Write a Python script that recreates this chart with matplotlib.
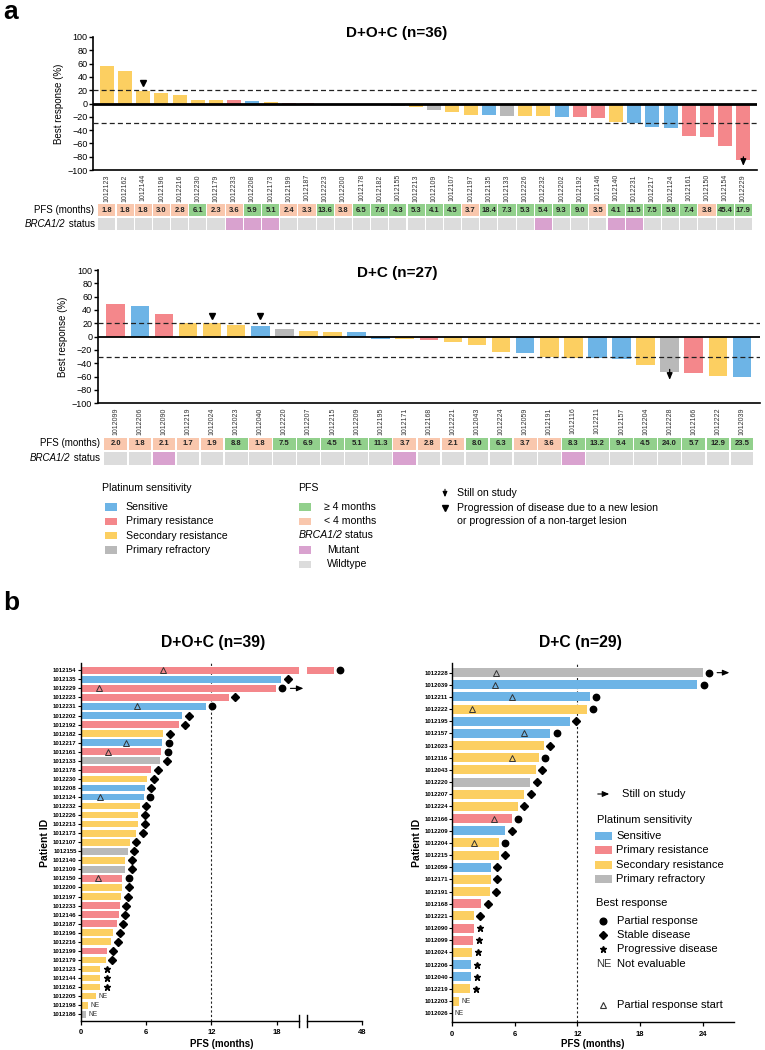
import numpy as np
import matplotlib
matplotlib.use('Agg')
import matplotlib.pyplot as plt
from matplotlib.patches import Rectangle, FancyArrowPatch
from matplotlib.lines import Line2D
from matplotlib.text import Annotation

plt.rcParams['font.family'] = ['Liberation Sans', 'DejaVu Sans']

W, H = 765, 1050

# colours for platinum sensitivity and table cells
COL = {'sens': '#6db4e6', 'prim': '#f4878b', 'sec': '#fccf61', 'refr': '#b9b9b9'}
PFS_HI = '#92d08c'
PFS_LO = '#f9c7ad'
MUT = '#d9a2cf'
WT = '#dcdcdc'
ARROW = '-|>,head_length=0.4,head_width=0.17'

# ---------------- panel a : D+O+C waterfall ----------------
doc_ids = ['1012123', '1012162', '1012144', '1012196', '1012216', '1012230', '1012179', '1012233',
           '1012208', '1012173', '1012199', '1012187', '1012223', '1012200', '1012178', '1012182',
           '1012155', '1012213', '1012109', '1012107', '1012197', '1012135', '1012133', '1012226',
           '1012232', '1012202', '1012192', '1012146', '1012140', '1012231', '1012217', '1012124',
           '1012161', '1012150', '1012154', '1012229']
doc_resp = [57, 49, 19, 16.5, 13, 6, 5, 5, 4, 2, 1.5, 1, 0, 0, 0, -3, -4, -5, -9.5, -12.5,
            -17, -17.5, -18.5, -18.5, -19.5, -20, -20.5, -21.5, -27.5, -30, -35.5, -36.5,
            -48.5, -50.5, -63.5, -85.5]
doc_plat = ['sec', 'sec', 'sec', 'sec', 'sec', 'sec', 'sec', 'prim', 'sens', 'sec', 'prim', 'prim',
            'prim', 'sec', 'prim', 'sec', 'refr', 'sec', 'refr', 'sec', 'sec', 'sens', 'refr', 'sec',
            'sec', 'sens', 'prim', 'prim', 'sec', 'sens', 'sens', 'sens', 'prim', 'prim', 'prim', 'prim']
doc_pfs = [1.8, 1.8, 1.8, 3.0, 2.8, 6.1, 2.3, 3.6, 5.9, 5.1, 2.4, 3.3, 13.6, 3.8, 6.5, 7.6, 4.3, 5.3,
           4.1, 4.5, 3.7, 18.4, 7.3, 5.3, 5.4, 9.3, 9.0, 3.5, 4.1, 11.5, 7.5, 5.8, 7.4, 3.8, 45.4, 17.9]
doc_mutant = ['1012233', '1012208', '1012173', '1012232', '1012140', '1012231']
doc_newlesion = ['1012144']
doc_onstudy = ['1012229']

# ---------------- panel a : D+C waterfall ----------------
dc_ids = ['1012099', '1012206', '1012090', '1012219', '1012024', '1012023', '1012040', '1012220',
          '1012207', '1012215', '1012209', '1012195', '1012171', '1012168', '1012221', '1012043',
          '1012224', '1012059', '1012191', '1012116', '1012211', '1012157', '1012204', '1012228',
          '1012166', '1012222', '1012039']
dc_resp = [49, 46, 33.5, 20.5, 20, 17, 16, 12, 8.5, 7, 6.5, -3, -3, -4.5, -7.5, -12.5, -22.5, -25,
           -30, -31.5, -31.5, -33, -42, -53.5, -54.5, -59.5, -61]
dc_plat = ['prim', 'sens', 'prim', 'sec', 'sec', 'sec', 'sens', 'refr', 'sec', 'sec', 'sens', 'sens',
           'sec', 'prim', 'sec', 'sec', 'sec', 'sens', 'sec', 'sec', 'sens', 'sens', 'sec', 'refr',
           'prim', 'sec', 'sens']
dc_pfs = [2.0, 1.8, 2.1, 1.7, 1.9, 8.8, 1.8, 7.5, 6.9, 4.5, 5.1, 11.3, 3.7, 2.8, 2.1, 8.0, 6.3, 3.7,
          3.6, 8.3, 13.2, 9.4, 4.5, 24.0, 5.7, 12.9, 23.5]
dc_mutant = ['1012090', '1012171', '1012116']
dc_newlesion = ['1012024', '1012040']
dc_onstudy = ['1012228']

# ---------------- panel b : D+O+C swimmer ----------------
docb_ids = ['1012154', '1012135', '1012229', '1012223', '1012231', '1012202', '1012192', '1012182',
            '1012217', '1012161', '1012133', '1012178', '1012230', '1012208', '1012124', '1012232',
            '1012226', '1012213', '1012173', '1012107', '1012155', '1012140', '1012109', '1012150',
            '1012200', '1012197', '1012233', '1012146', '1012187', '1012196', '1012216', '1012199',
            '1012179', '1012123', '1012144', '1012162', '1012205', '1012198', '1012186']
docb_pfs = [45.4, 18.4, 17.9, 13.6, 11.5, 9.3, 9.0, 7.6, 7.5, 7.4, 7.3, 6.5, 6.1, 5.9, 5.8, 5.4,
            5.3, 5.3, 5.1, 4.5, 4.3, 4.1, 4.1, 3.8, 3.8, 3.7, 3.6, 3.5, 3.3, 3.0, 2.8, 2.4, 2.3,
            1.8, 1.8, 1.8, 1.4, 0.7, 0.5]
docb_plat = ['prim', 'sens', 'prim', 'prim', 'sens', 'sens', 'prim', 'sec', 'sens', 'prim', 'refr',
             'prim', 'sec', 'sens', 'sens', 'sec', 'sec', 'sec', 'sec', 'sec', 'refr', 'sec', 'refr',
             'prim', 'sec', 'sec', 'prim', 'prim', 'prim', 'sec', 'sec', 'prim', 'sec', 'sec', 'sec',
             'sec', 'sec', 'sec', 'refr']
docb_best = ['PR', 'SD', 'PR', 'SD', 'PR', 'SD', 'SD', 'SD', 'PR', 'PR', 'SD', 'SD', 'SD', 'SD', 'PR',
             'SD', 'SD', 'SD', 'SD', 'SD', 'SD', 'SD', 'SD', 'PR', 'SD', 'SD', 'SD', 'SD', 'SD', 'SD',
             'SD', 'SD', 'SD', 'PD', 'PD', 'PD', 'NE', 'NE', 'NE']
docb_prstart = {'1012154': 7.6, '1012229': 1.65, '1012231': 5.2, '1012217': 4.2,
                '1012161': 2.5, '1012124': 1.8, '1012150': 1.6}
docb_onstudy = ['1012229']

# ---------------- panel b : D+C swimmer ----------------
dcb_ids = ['1012228', '1012039', '1012211', '1012222', '1012195', '1012157', '1012023', '1012116',
           '1012043', '1012220', '1012207', '1012224', '1012166', '1012209', '1012204', '1012215',
           '1012059', '1012171', '1012191', '1012168', '1012221', '1012090', '1012099', '1012024',
           '1012206', '1012040', '1012219', '1012203', '1012026']
dcb_pfs = [24.0, 23.5, 13.2, 12.9, 11.3, 9.4, 8.8, 8.3, 8.0, 7.5, 6.9, 6.3, 5.7, 5.1, 4.5, 4.5, 3.7,
           3.7, 3.6, 2.8, 2.1, 2.1, 2.0, 1.9, 1.8, 1.8, 1.7, 0.7, 0.0]
dcb_plat = ['refr', 'sens', 'sens', 'sec', 'sens', 'sens', 'sec', 'sec', 'sec', 'refr', 'sec', 'sec',
            'prim', 'sens', 'sec', 'sec', 'sens', 'sec', 'sec', 'prim', 'sec', 'prim', 'prim', 'sec',
            'sens', 'sens', 'sec', 'sec', 'sec']
dcb_best = ['PR', 'PR', 'PR', 'PR', 'SD', 'PR', 'SD', 'PR', 'SD', 'SD', 'SD', 'SD', 'PR', 'SD', 'PR',
            'SD', 'SD', 'SD', 'SD', 'SD', 'SD', 'PD', 'PD', 'PD', 'PD', 'PD', 'PD', 'NE', 'NE']
dcb_prstart = {'1012228': 4.2, '1012039': 4.15, '1012211': 5.7, '1012222': 1.9,
               '1012157': 6.9, '1012116': 5.7, '1012166': 4.05, '1012204': 2.1}
dcb_onstudy = ['1012228']

plat_names = [('sens', 'Sensitive'), ('prim', 'Primary resistance'),
              ('sec', 'Secondary resistance'), ('refr', 'Primary refractory')]


def fx(x):
    return x / W


def fy(y):
    return 1 - y / H


def add_ax(left, top, right, bottom):
    return fig.add_axes([fx(left), fy(bottom), (right - left) / W, (bottom - top) / H])


def waterfall(ax, tab, ids, resp, plat, pfs, mutant, newlesion, onstudy, zero_lw, arrow_y):
    n = len(ids)
    x = np.arange(n)
    ax.bar(x, resp, width=0.77, color=[COL[p] for p in plat], zorder=2)
    ax.axhline(0, color='k', lw=zero_lw, zorder=3)
    ax.axhline(20, color='#222', lw=0.9, ls=(0, (4, 2.5)), zorder=3)
    ax.axhline(-30, color='#222', lw=0.9, ls=(0, (4, 2.5)), zorder=3)
    for i, pid in enumerate(ids):
        if pid in newlesion:
            ax.plot(i, 31, 'v', color='k', ms=4.5, zorder=4)
        if pid in onstudy:
            ax.annotate('', xy=(i, arrow_y[1]), xytext=(i, arrow_y[0]),
                        arrowprops=dict(arrowstyle=ARROW, color='k', lw=0.9, mutation_scale=10))
    ax.set_xlim(-0.75, n - 0.25)
    ax.set_ylim(-100, 100)
    ax.set_yticks(range(-100, 101, 20))
    ax.tick_params(axis='y', labelsize=6.5, length=3, width=1, pad=1)
    ax.set_xticks(x, ids, rotation=90, fontsize=5, color='#333')
    ax.tick_params(axis='x', length=0, pad=3)
    for s in ['top', 'right']:
        ax.spines[s].set_visible(False)
    ax.spines['left'].set_linewidth(1.2)
    ax.spines['bottom'].set_linewidth(1.2)

    # PFS / BRCA table
    for i in range(n):
        c = PFS_HI if pfs[i] >= 4 else PFS_LO
        tab.add_patch(Rectangle((i - 0.47, 1.05), 0.94, 0.88, color=c, lw=0))
        tab.text(i, 1.49, f'{pfs[i]:.1f}', ha='center', va='center', fontsize=5.5,
                 fontweight='bold', color='#222')
        c = MUT if ids[i] in mutant else WT
        tab.add_patch(Rectangle((i - 0.47, 0.05), 0.94, 0.88, color=c, lw=0))
    tab.set_xlim(-0.75, n - 0.25)
    tab.set_ylim(0, 2)
    tab.axis('off')


def swimmer(ax, ids, pfs, plat, best, prstart, onstudy, main=True, off=0.6):
    n = len(ids)
    y = np.arange(n)
    ax.barh(y, pfs, height=0.74, color=[COL[p] for p in plat], zorder=2)
    for i, pid in enumerate(ids):
        xm = pfs[i] + off
        if best[i] == 'PR':
            ax.plot(xm, i, 'o', color='k', ms=4.6, zorder=4)
        elif best[i] == 'SD':
            ax.plot(xm, i, 'D', color='k', ms=4.0, zorder=4)
        elif best[i] == 'PD':
            ax.plot(xm, i, '*', color='k', ms=4.8, zorder=4)
        elif main:
            ax.text(pfs[i] + 0.2, i, 'NE', ha='left', va='center', fontsize=4.8, color='#333')
        if pid in prstart:
            ax.plot(prstart[pid], i, '^', mfc='none', mec='#333', mew=0.7, ms=4, zorder=5)
        if pid in onstudy and main:
            ax.annotate('', xy=(xm + 2.2, i), xytext=(xm + 0.5, i), annotation_clip=False,
                        arrowprops=dict(arrowstyle=ARROW, color='k', lw=0.8, mutation_scale=10))
    ax.axvline(12, color='#222', lw=0.8, ls=(0, (2, 2)), zorder=1)
    ax.set_ylim(n - 1 + 0.75, -0.77)
    for s in ['top', 'right']:
        ax.spines[s].set_visible(False)
    ax.spines['bottom'].set_linewidth(1.0)
    ax.tick_params(axis='x', labelsize=5.5, length=3, width=0.9, pad=3)


fig = plt.figure(figsize=(W / 100, H / 100), dpi=100)

# panel labels
fig.text(fx(3), fy(12), 'a', fontsize=19, fontweight='bold', va='center')
fig.text(fx(3), fy(603), 'b', fontsize=19, fontweight='bold', va='center')

# ---- waterfall D+O+C
ax1 = add_ax(93.3, 37, 757, 170)
tab1 = add_ax(93.3, 203, 757, 231)
waterfall(ax1, tab1, doc_ids, doc_resp, doc_plat, doc_pfs, doc_mutant, doc_newlesion,
          doc_onstudy, 2.0, (-76, -98))
fig.text(fx(397), fy(33), 'D+O+C (n=36)', ha='center', va='center', fontsize=11, fontweight='bold')
fig.text(fx(59), fy(104), 'Best response (%)', ha='center', va='center', rotation=90, fontsize=7)
fig.text(fx(94.5), fy(210), 'PFS (months)', ha='right', va='center', fontsize=7)
t1 = fig.text(fx(94.5), fy(224), ' status', ha='right', va='center', fontsize=7)
fig.add_artist(Annotation('BRCA1/2', xy=(0, 0), xycoords=t1, ha='right',
                          va='bottom', fontsize=7, style='italic'))

# ---- waterfall D+C
ax2 = add_ax(97.7, 270, 760, 403.3)
tab2 = add_ax(97.7, 436.5, 760, 465.5)
waterfall(ax2, tab2, dc_ids, dc_resp, dc_plat, dc_pfs, dc_mutant, dc_newlesion,
          dc_onstudy, 1.3, (-45, -69))
fig.text(fx(397), fy(273), 'D+C (n=27)', ha='center', va='center', fontsize=11, fontweight='bold')
fig.text(fx(63), fy(337), 'Best response (%)', ha='center', va='center', rotation=90, fontsize=7)
fig.text(fx(99.5), fy(443.5), 'PFS (months)', ha='right', va='center', fontsize=7)
t2 = fig.text(fx(99.5), fy(458), ' status', ha='right', va='center', fontsize=7)
fig.add_artist(Annotation('BRCA1/2', xy=(0, 0), xycoords=t2, ha='right',
                          va='bottom', fontsize=7, style='italic'))

# ---- legend of panel a
LFS = 7.6
fig.text(fx(102.5), fy(488), 'Platinum sensitivity', ha='left', va='center', fontsize=LFS)
for k, (key, name) in enumerate(plat_names):
    yc = 507 + k * 14.3
    fig.add_artist(Rectangle((fx(105), fy(yc + 3.7)), 12 / W, 7.4 / H,
                             transform=fig.transFigure, color=COL[key], lw=0))
    fig.text(fx(125.5), fy(yc), name, ha='left', va='center', fontsize=LFS)
fig.text(fx(298.5), fy(488), 'PFS', ha='left', va='center', fontsize=LFS)
pfs_leg = [(PFS_HI, '\u2265 4 months', 507, 324.5), (PFS_LO, '< 4 months', 521.3, 324.5),
           (MUT, 'Mutant', 550, 327), (WT, 'Wildtype', 564.3, 327)]
for c, name, yc, xt in pfs_leg:
    fig.add_artist(Rectangle((fx(298.5), fy(yc + 3.7)), 12 / W, 7.4 / H,
                             transform=fig.transFigure, color=c, lw=0))
    fig.text(fx(xt), fy(yc), name, ha='left', va='center', fontsize=LFS)
t3 = fig.text(fx(298.5), fy(535.5), 'BRCA1/2', ha='left', va='center', fontsize=LFS,
              style='italic')
fig.add_artist(Annotation(' status', xy=(1, 0), xycoords=t3, ha='left',
                          va='bottom', fontsize=LFS))
fig.add_artist(FancyArrowPatch((fx(445), fy(486.5)), (fx(445), fy(500)), transform=fig.transFigure,
                               arrowstyle=ARROW, mutation_scale=8, lw=0.8, color='k'))
fig.text(fx(457), fy(493.5), 'Still on study', ha='left', va='center', fontsize=LFS)
fig.add_artist(Line2D([fx(445)], [fy(507.5)], marker='v', color='k', ms=4.5,
                      transform=fig.transFigure))
fig.text(fx(457), fy(507.5), 'Progression of disease due to a new lesion', ha='left',
         va='center', fontsize=LFS)
fig.text(fx(457), fy(521.5), 'or progression of a non-target lesion', ha='left',
         va='center', fontsize=LFS)

# ---- swimmer D+O+C with broken x axis
ax3 = add_ax(80.7, 663.3, 299.3, 1021)
ax3b = add_ax(307, 663.3, 362, 1021)
swimmer(ax3, docb_ids, docb_pfs, docb_plat, docb_best, docb_prstart, docb_onstudy, main=True)
swimmer(ax3b, docb_ids, docb_pfs, docb_plat, docb_best, docb_prstart, docb_onstudy, main=False)
ax3.set_xlim(0, 20.07)
ax3.set_xticks([0, 6, 12, 18])
ax3b.set_xlim(42.95, 48)
ax3b.set_xticks([48])
ax3.set_yticks(np.arange(len(docb_ids)), docb_ids, fontsize=4.3, fontweight='bold')
ax3.tick_params(axis='y', length=2, width=0.8, pad=1)
ax3.spines['left'].set_linewidth(1.0)
ax3b.spines['left'].set_visible(False)
ax3b.set_yticks([])
for a, xx in [(ax3, 1), (ax3b, 0)]:
    a.plot([xx, xx], [-0.018, 0.018], transform=a.transAxes, color='k', lw=1.0, clip_on=False)
fig.text(fx(213), fy(643), 'D+O+C (n=39)', ha='center', va='center', fontsize=11.3,
         fontweight='bold')
fig.text(fx(221.5), fy(1044), 'PFS (months)', ha='center', va='center', fontsize=7,
         fontweight='bold')
fig.text(fx(45), fy(843), 'Patient ID', ha='center', va='center', rotation=90, fontsize=7.5,
         fontweight='bold')

# ---- swimmer D+C
ax4 = add_ax(452, 663.3, 734, 1022.3)
swimmer(ax4, dcb_ids, dcb_pfs, dcb_plat, dcb_best, dcb_prstart, dcb_onstudy, main=True, off=0.62)
ax4.set_xlim(0, 27)
ax4.set_xticks([0, 6, 12, 18, 24])
ax4.set_yticks(np.arange(len(dcb_ids)), dcb_ids, fontsize=4.3, fontweight='bold')
ax4.tick_params(axis='y', length=2, width=0.8, pad=1)
ax4.spines['left'].set_linewidth(1.0)
fig.text(fx(580.5), fy(643), 'D+C (n=29)', ha='center', va='center', fontsize=11.3,
         fontweight='bold')
fig.text(fx(593), fy(1044), 'PFS (months)', ha='center', va='center', fontsize=7,
         fontweight='bold')
fig.text(fx(416.7), fy(843), 'Patient ID', ha='center', va='center', rotation=90, fontsize=7.5,
         fontweight='bold')
for a in [ax3, ax3b, ax4]:
    for lab in a.get_xticklabels():
        lab.set_fontweight('bold')

# ---- legend of panel b
BFS = 8
fig.add_artist(FancyArrowPatch((fx(595), fy(794)), (fx(612), fy(794)), transform=fig.transFigure,
                               arrowstyle=ARROW, mutation_scale=10, lw=0.8, color='k'))
fig.text(fx(621.5), fy(794), 'Still on study', ha='left', va='center', fontsize=BFS)
fig.text(fx(597), fy(820), 'Platinum sensitivity', ha='left', va='center', fontsize=BFS)
for k, (key, name) in enumerate(plat_names):
    yc = 836 + k * 14.4
    fig.add_artist(Rectangle((fx(595), fy(yc + 4)), 16.7 / W, 8 / H,
                             transform=fig.transFigure, color=COL[key], lw=0))
    fig.text(fx(616), fy(yc), name, ha='left', va='center', fontsize=BFS)
fig.text(fx(596), fy(903), 'Best response', ha='left', va='center', fontsize=BFS)
resp_leg = [('o', 4.8, 'Partial response'), ('D', 4.2, 'Stable disease'),
            ('*', 5.0, 'Progressive disease'), (None, 0, 'Not evaluable')]
for k, (m, ms, name) in enumerate(resp_leg):
    yc = 920.5 + k * 14.4
    if m is None:
        fig.text(fx(604), fy(yc), 'NE', ha='center', va='center', fontsize=BFS, color='#333')
    else:
        fig.add_artist(Line2D([fx(603)], [fy(yc)], marker=m, color='k', ms=ms,
                              transform=fig.transFigure))
    fig.text(fx(617), fy(yc), name, ha='left', va='center', fontsize=BFS)
fig.add_artist(Line2D([fx(603)], [fy(1005)], marker='^', mfc='none', mec='#333', mew=0.8, ms=5,
                      transform=fig.transFigure))
fig.text(fx(617), fy(1005), 'Partial response start', ha='left', va='center', fontsize=BFS)

fig.savefig('out.png', dpi=100)
